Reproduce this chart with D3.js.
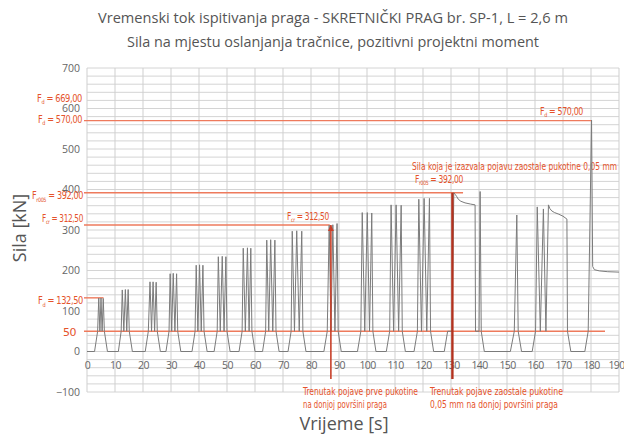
<!DOCTYPE html>
<html><head><meta charset="utf-8">
<script src="https://cdn.jsdelivr.net/npm/d3@7"></script>
<style>
body{margin:0;background:#fff;}
svg{display:block;}
</style></head><body>
<svg id="chart" width="624" height="434"></svg>
<script>
// ---------- data ----------
const titleLines = ["Vremenski tok ispitivanja praga - SKRETNIČKI PRAG br. SP-1, L = 2,6 m",
                    "Sila na mjestu oslanjanja tračnice, pozitivni projektni moment"];
const xLabel = "Vrijeme [s]";
const yLabel = "Sila [kN]";
const xTicks = [0,10,20,30,40,50,60,70,80,90,100,110,120,130,140,150,160,170,180,190];
const yTicks = [-100,0,100,200,300,400,500,600,700];

// time [s], force [kN]
const signal = [
[0,0],[2.7,0],[3.8,50],[4.2,132],[4.6,50],[5.0,132],[5.4,50],[5.8,131],[6.2,50],[7.3,0],
[11.2,0],[12.2,50],[12.6,152],[13.15,50],[13.7,153],[14.2,50],[14.7,153],[15.1,50],[16.2,0],
[20.8,0],[21.9,50],[22.5,172],[23.05,50],[23.6,172],[24.15,50],[24.7,171],[25.1,50],[26.2,0],
[28.2,0],[29.3,50],[29.7,192],[30.25,50],[30.8,193],[31.4,50],[32.0,192],[32.4,50],[33.5,0],
[37.5,0],[38.6,50],[39.0,213],[39.6,50],[40.2,214],[40.8,50],[41.4,213],[41.8,50],[42.9,0],
[45.4,0],[46.5,50],[46.9,234],[47.6,50],[48.3,235],[48.95,50],[49.6,234],[50.0,50],[51.1,0],
[54.3,0],[55.4,50],[55.8,255],[56.55,50],[57.3,256],[57.9,50],[58.5,255],[58.9,50],[60.0,0],
[62.7,0],[63.8,50],[64.2,275],[64.9,50],[65.6,276],[66.35,50],[67.1,275],[67.5,50],[68.6,0],
[71.8,0],[72.9,50],[73.3,297],[74.1,50],[74.9,298],[75.8,50],[76.7,297],[77.1,50],[78.2,0],
[84.6,0],[85.8,50],[86.5,312],[87.15,50],[87.8,313],[88.55,50],[89.3,316],[89.7,50],[90.8,0],
[96.6,0],[97.8,50],[98.3,343],[99.2,50],[100.1,343],[100.9,50],[101.7,342],[102.1,50],[103.2,0],
[106.9,0],[108.1,50],[108.6,362],[109.5,50],[110.4,362],[111.3,50],[112.2,361],[112.6,50],[113.7,0],
[116.8,0],[118.0,50],[118.5,376],[119.45,50],[120.4,378],[121.35,50],[122.3,378],[122.7,50],[123.8,0],
[127.6,0],[128.8,50],[130.4,50],[131.0,392],[131.5,388],[132.0,383],[132.6,376],[133.5,371],[135.0,367],[137.0,364],[138.6,362],[138.75,50],[140.0,50],[140.4,395],[140.8,50],[141.9,0],
[151.2,0],[152.6,50],[153.5,337],[154.0,50],[155.2,0],
[159.0,0],[160.2,50],[160.8,357],[161.9,50],[163.0,352],[163.9,50],[164.8,362],[165.3,353],[166.0,347],[167.0,343],[168.5,339],[170.0,334],[171.4,327],[171.6,50],[172.8,0],
[177.8,0],[179.0,50],[180.2,571],[180.6,210],[181.2,202],[183.0,199],[186.0,197],[190.0,196]
];

// reference force levels (left labels)
const refForces = [669, 570, 392, 312.5, 132.5, 50];
const refSubs   = ["d", "d", "r005", "cr", "d", ""];
const refTexts  = ["669,00", "570,00", "392,00", "312,50", "132,50", "50"];
const refLineEnd = [null, 180.3, 134.3, 86.7, 5.9, 185];   // time where red line ends

// crack moments
const crackTimes  = [87.1, 130.5];
const crackForces = [312.5, 392];
const crackNotes  = [["Trenutak pojave prve pukotine", "na donjoj površini praga"],
                     ["Trenutak pojave zaostale pukotine", "0,05 mm na donjoj površini praga"]];
const residualNote = "Sila koja je izazvala pojavu zaostale pukotine 0,05 mm";

// ---------- layout ----------
const svg = d3.select("#chart");
const x = d3.scaleLinear().domain([0, 190]).range([87, 619]);
const y = d3.scaleLinear().domain([-100, 700]).range([392, 68]);
const RED = "#e5532b", REDLINE = "#ee7a5c";
const labelFont = "'DejaVu Sans Condensed', 'Liberation Sans Narrow', 'Roboto', sans-serif";

// title
svg.selectAll("text.title").data(titleLines).enter().append("text")
  .attr("class", "title")
  .attr("x", 333).attr("y", (d, i) => 23 + i * 24)
  .attr("text-anchor", "middle")
  .attr("font-family", "'Open Sans', sans-serif").attr("font-size", 14)
  .attr("fill", "#555")
  .attr("textLength", (d, i) => i === 0 ? 470 : 412)
  .attr("lengthAdjust", "spacingAndGlyphs")
  .text(d => d);

// grid
const grid = svg.append("g");
grid.selectAll("line.h").data(d3.range(-100, 701, 20)).enter().append("line")
  .attr("x1", x(0)).attr("x2", x(190))
  .attr("y1", d => y(d)).attr("y2", d => y(d))
  .attr("stroke", "#d4d4d4").attr("stroke-width", 1);
grid.selectAll("line.v").data(xTicks).enter().append("line")
  .attr("x1", d => x(d)).attr("x2", d => x(d))
  .attr("y1", y(700)).attr("y2", y(-100))
  .attr("stroke", "#cfcfcf").attr("stroke-width", 1);

// axes (labels only)
const yAxis = svg.append("g").attr("transform", `translate(${x(0)},0)`)
  .call(d3.axisLeft(y).tickValues(yTicks).tickSize(0).tickPadding(7));
yAxis.select(".domain").remove();
yAxis.selectAll("text").attr("font-family", "'Open Sans', sans-serif").attr("font-size", 10.5).attr("fill", "#666");

const xAxis = svg.append("g").attr("transform", `translate(0,${y(0)})`)
  .call(d3.axisBottom(x).tickValues(xTicks).tickSize(0).tickPadding(10));
xAxis.select(".domain").remove();
xAxis.selectAll("text").attr("font-family", "'Open Sans', sans-serif").attr("font-size", 10.5)
  .attr("fill", "#666").attr("letter-spacing", -0.6);
xAxis.selectAll(".tick").filter(d => d === 190).select("text").attr("dx", -3);

// axis titles
svg.append("text").attr("x", 344).attr("y", 430).attr("text-anchor", "middle")
  .attr("font-family", "'Open Sans', sans-serif").attr("font-size", 18).attr("fill", "#555")
  .text(xLabel);
svg.append("text").attr("transform", "translate(26,228) rotate(-90)").attr("text-anchor", "middle")
  .attr("font-family", "'Open Sans', sans-serif").attr("font-size", 18).attr("fill", "#555")
  .text(yLabel);

// reference lines
refForces.forEach((f, i) => {
  if (refLineEnd[i] !== null) {
    svg.append("line").attr("x1", x(0) - 3).attr("x2", x(refLineEnd[i]))
      .attr("y1", y(f)).attr("y2", y(f))
      .attr("stroke", REDLINE).attr("stroke-width", 1.4);
  }
});

// helper: F_sub = value label
function fLabel(g, xp, yp, sub, val, anchor, len) {
  const t = g.append("text").attr("x", xp).attr("y", yp)
    .attr("text-anchor", anchor)
    .attr("font-family", labelFont).attr("font-size", 10).attr("fill", RED)
    .attr("letter-spacing", -0.4);
  if (sub) {
    t.append("tspan").text("F");
    t.append("tspan").attr("font-size", 6).attr("dy", 2.5).text(sub);
    t.append("tspan").attr("dy", -2.5).text(" = " + val);
  } else {
    t.text(val);
  }
  if (len) t.attr("textLength", len).attr("lengthAdjust", "spacingAndGlyphs");
  return t;
}

// left labels (pixel offsets of baseline relative to their force level)
const leftDy = [21.4, 2, 6.5, -3, 6.4, 5];
const leftLen = [45, 44, 51, 41, 45, 13];
const leftX = [82, 82, 83, 83, 83, 76];
refForces.forEach((f, i) => {
  fLabel(svg, leftX[i], y(f) + leftDy[i], refSubs[i], refTexts[i], "end", leftLen[i]);
});

// in-plot labels
fLabel(svg, 540, y(570) - 6, "d", "570,00", "start", 43);
fLabel(svg, 415, y(392) - 10, "r005", "392,00", "start", 48);
fLabel(svg, 287, y(312.5) - 5, "cr", "312,50", "start", 42);
svg.append("text").attr("x", 412).attr("y", y(392) - 23)
  .attr("font-family", labelFont).attr("font-size", 10).attr("fill", RED)
  .attr("textLength", 205).attr("lengthAdjust", "spacingAndGlyphs")
  .text(residualNote);

// signal
const line = d3.line().x(d => x(d[0])).y(d => y(d[1]));
svg.append("path").datum(signal)
  .attr("d", line).attr("fill", "none")
  .attr("stroke", "#7b7b7b").attr("stroke-width", 1).attr("stroke-linejoin", "round");

// crack vertical lines
crackTimes.forEach((t, i) => {
  svg.append("line").attr("x1", x(t)).attr("x2", x(t))
    .attr("y1", y(crackForces[i])).attr("y2", y(-68))
    .attr("stroke", i === 0 ? "#c8402a" : "#b3321f").attr("stroke-width", i === 0 ? 1.6 : 2.4);
});
// small arrowhead at first crack
{
  const ax = x(crackTimes[0]), ay = y(crackForces[0]);
  svg.append("path").attr("d", `M${ax},${ay} l-3,6 l6,0 z`).attr("fill", "#c8402a");
}
// bottom notes
const noteX = [303, 430];
const noteLen = [[115, 84], [133, 128]];
crackNotes.forEach((lines, i) => {
  lines.forEach((s, j) => {
    svg.append("text").attr("x", noteX[i]).attr("y", 394.5 + j * 13.3)
      .attr("font-family", labelFont).attr("font-size", 10).attr("fill", RED)
      .attr("textLength", noteLen[i][j]).attr("lengthAdjust", "spacingAndGlyphs")
      .text(s);
  });
});
</script>
</body></html>
